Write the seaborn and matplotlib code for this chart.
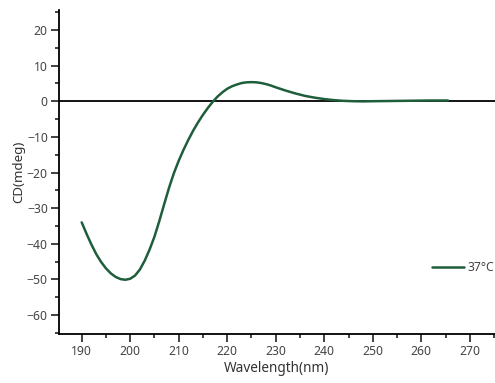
import numpy as np
import pandas as pd
import seaborn as sns
import matplotlib.pyplot as plt
from matplotlib.ticker import MultipleLocator

# CD spectrum
wavelength = [190, 191, 192, 193, 194, 195, 196, 197, 198, 199, 200, 201, 202, 203, 204,
              205, 206, 207, 208, 209, 210, 211, 212, 213, 214, 215, 216, 217, 218, 219,
              220, 221, 222, 223, 224, 225, 226, 227, 228, 229, 230, 232, 234, 236, 238,
              240, 242, 244, 246, 248, 250, 253, 256, 259, 262, 265.5]
cd_mdeg = [-34.0, -37.2, -40.2, -42.9, -45.1, -46.9, -48.3, -49.3, -49.9, -50.1, -49.8, -48.9, -47.2, -44.7, -41.6,
           -38.0, -33.6, -28.9, -24.3, -20.2, -16.7, -13.6, -10.8, -8.2, -5.9, -3.8, -1.9, -0.2, 1.3, 2.5,
           3.5, 4.2, 4.7, 5.1, 5.3, 5.35, 5.3, 5.1, 4.8, 4.4, 3.9, 3.0, 2.2, 1.5, 1.0,
           0.6, 0.3, 0.1, 0.0, -0.05, 0.0, 0.05, 0.1, 0.15, 0.2, 0.2]
label = "37°C"

df = pd.DataFrame({"Wavelength": wavelength, "CD": cd_mdeg})

sns.set_style("ticks")
plt.rcParams['font.family'] = ['Noto Sans', 'DejaVu Sans']

fig = plt.figure(figsize=(4.95, 3.83), dpi=100)
ax = fig.add_axes([0.119, 0.128, 0.881, 0.846])

ax.axhline(0, color="black", lw=1.3, zorder=1)
sns.lineplot(data=df, x="Wavelength", y="CD", ax=ax, color="#1f5e3b", lw=1.8,
             label=label, zorder=2)

ax.set_xlim(185.3, 275.2)
ax.set_ylim(-65.3, 25.6)
ax.xaxis.set_major_locator(MultipleLocator(10))
ax.xaxis.set_minor_locator(MultipleLocator(5))
ax.yaxis.set_major_locator(MultipleLocator(10))
ax.yaxis.set_minor_locator(MultipleLocator(5))
ax.tick_params(which="major", length=5.5, width=1.3, labelsize=8.8, colors="#333333", pad=2.5)
ax.tick_params(which="minor", length=3, width=1.3, colors="#333333")
ax.tick_params(labelcolor="#444444")
for s in ["left", "bottom"]:
    ax.spines[s].set_linewidth(1.3)
    ax.spines[s].set_color("black")
sns.despine(ax=ax)

ax.set_xlabel("Wavelength(nm)", fontsize=9.8, color="#333333", labelpad=2)
ax.set_ylabel("CD(mdeg)", fontsize=9.6, color="#333333", labelpad=1)

ax.legend(loc="center left", bbox_to_anchor=(0.83, 0.205), frameon=False,
          fontsize=8.8, handlelength=2.6, handletextpad=0.3, labelcolor="#444444")

fig.savefig("out.png", dpi=100)
